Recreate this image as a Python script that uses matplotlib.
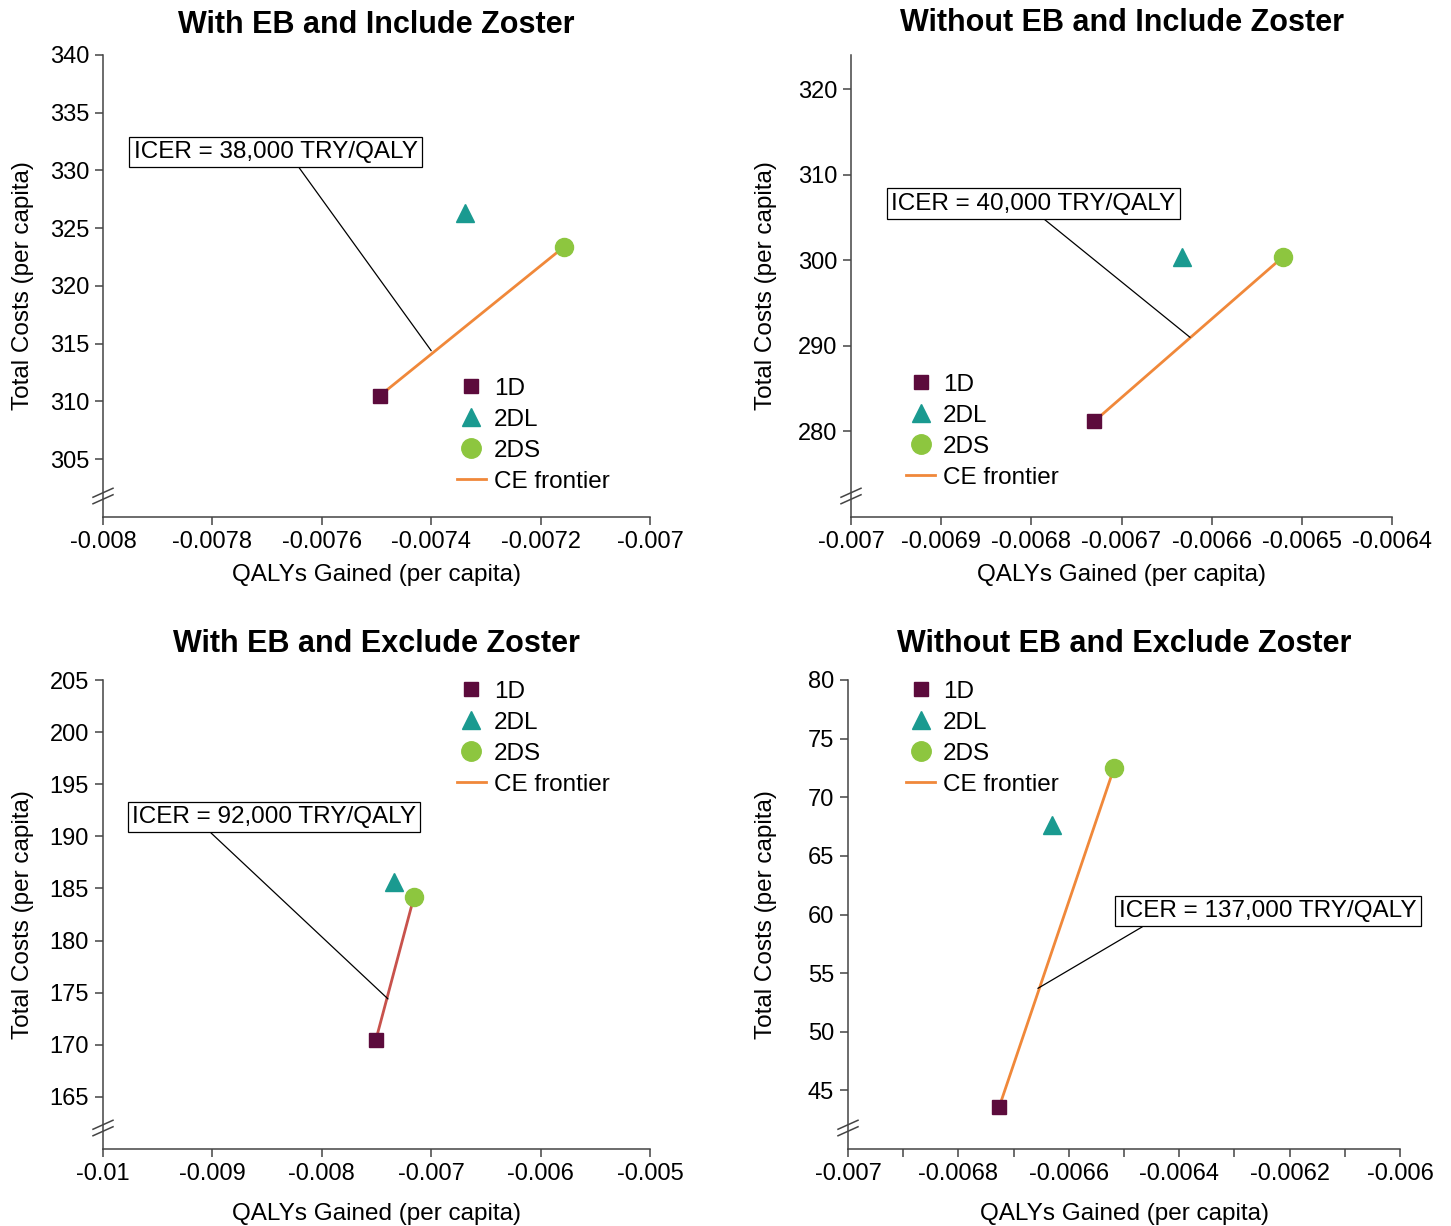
import matplotlib
matplotlib.use("Agg")
import matplotlib.pyplot as plt
from matplotlib.lines import Line2D
from matplotlib.ticker import FuncFormatter, MultipleLocator
import numpy as np

plt.rcParams['font.family'] = ['Liberation Sans', 'DejaVu Sans']
plt.rcParams['axes.unicode_minus'] = False

# ---------------- data ----------------
titles = ["With EB and Include Zoster", "Without EB and Include Zoster",
          "With EB and Exclude Zoster", "Without EB and Exclude Zoster"]
strategies = ["1D", "2DL", "2DS"]

qaly_p1 = [-0.007494, -0.007338, -0.007157]
cost_p1 = [310.5, 326.3, 323.4]
qaly_p2 = [-0.006730, -0.006633, -0.006521]
cost_p2 = [281.2, 300.4, 300.4]
qaly_p3 = [-0.007505, -0.007340, -0.007157]
cost_p3 = [170.5, 185.6, 184.2]
qaly_p4 = [-0.006726, -0.006630, -0.006518]
cost_p4 = [43.6, 67.6, 72.5]

icer_labels = ["ICER = 38,000 TRY/QALY", "ICER = 40,000 TRY/QALY",
               "ICER = 92,000 TRY/QALY", "ICER = 137,000 TRY/QALY"]
# annotation: (point on frontier, box centre)
icer_point = [(-0.00740, 314.4), (-0.006624, 291.0), (-0.007395, 174.4), (-0.006656, 53.7)]
icer_box = [(-0.007684, 331.6), (-0.006798, 306.6), (-0.008437, 191.85), (-0.006239, 60.3)]
icer_relx = [0.57, 0.52, 0.26, 0.105]

xlims = [(-0.008, -0.007), (-0.007, -0.0064), (-0.01, -0.005), (-0.007, -0.006)]
xmajor = [0.0002, 0.0001, 0.001, 0.0002]
xminor = [None, None, None, 0.0001]
ylims = [(300, 340), (270, 324), (160, 205), (40, 80)]
yticks = [np.arange(305, 341, 5), np.arange(280, 321, 10),
          np.arange(165, 206, 5), np.arange(45, 81, 5)]

# ---------------- style ----------------
c_1d = "#5c0b3c"
c_2dl = "#1a9a90"
c_2ds = "#8dc63f"
c_front = "#f0883a"
front_colors = [c_front, c_front, "#c8524c", c_front]
spine_c = "#444444"

fig = plt.figure(figsize=(14.51, 12.26), dpi=100)
W, H = 1451, 1226
boxes = [(103, 650, 55, 517), (851, 1392, 55, 517),
         (103, 650, 680, 1149), (848, 1400, 680, 1149)]
legend_anchor = [(0.647, 0.301), (0.1017, 0.310), (0.647, 0.998), (0.105, 0.998)]
title_pad = [16, 17, 20, 20]

data = [(qaly_p1, cost_p1), (qaly_p2, cost_p2), (qaly_p3, cost_p3), (qaly_p4, cost_p4)]

fmt = FuncFormatter(lambda v, p: f"{v:g}")

for i in range(4):
    l, r, t, b = boxes[i]
    ax = fig.add_axes([l / W, 1 - b / H, (r - l) / W, (b - t) / H])
    xs, ys = data[i]
    ax.plot([xs[0], xs[2]], [ys[0], ys[2]], color=front_colors[i], lw=2.0, zorder=2)
    ax.plot(xs[0], ys[0], 's', color=c_1d, ms=10, zorder=3)
    ax.plot(xs[1], ys[1], '^', color=c_2dl, ms=12.5, zorder=3)
    ax.plot(xs[2], ys[2], 'o', color=c_2ds, ms=13, zorder=3)

    ax.annotate(icer_labels[i], xy=icer_point[i], xytext=icer_box[i],
                ha='center', va='center', fontsize=17.5,
                bbox=dict(boxstyle='square,pad=0.18', fc='white', ec='black', lw=0.9),
                arrowprops=dict(arrowstyle='-', color='black', lw=0.9,
                                shrinkA=0, shrinkB=0, relpos=(icer_relx[i], 0)),
                zorder=4)

    ax.set_xlim(*xlims[i])
    ax.set_ylim(*ylims[i])
    ax.xaxis.set_major_locator(MultipleLocator(xmajor[i]))
    if xminor[i]:
        ax.xaxis.set_minor_locator(MultipleLocator(xminor[i]))
        ax.tick_params(axis='x', which='minor', length=6, width=1.1, color=spine_c, direction='out')
    ax.xaxis.set_major_formatter(fmt)
    ax.set_yticks(yticks[i])
    for s in ['top', 'right']:
        ax.spines[s].set_visible(False)
    for s in ['left', 'bottom']:
        ax.spines[s].set_color(spine_c)
        ax.spines[s].set_linewidth(1.1)
    ax.tick_params(axis='both', which='major', labelsize=17, length=6, width=1.1,
                   color=spine_c, direction='out', pad=4)

    ax.set_xlabel("QALYs Gained (per capita)", fontsize=17.5)
    ax.set_ylabel("Total Costs (per capita)", fontsize=17.5)
    ax.yaxis.set_label_coords(((34 if l < 400 else 777) - l) / (r - l), 0.5)
    ax.xaxis.set_label_coords(0.5, (b - (564 if b < 600 else 1203)) / (b - t))
    ax.set_title(titles[i], fontsize=22, fontweight='bold', pad=title_pad[i])

    # axis break marks
    bx = 10 / (r - l)
    by = 21 / (b - t)
    dy = 4.5 / (b - t)
    gap = 6.5 / (b - t)
    for off in (0, gap):
        ax.plot([-bx, bx], [by - dy - off + gap / 2, by + dy - off + gap / 2],
                transform=ax.transAxes, color=spine_c, lw=1.1, clip_on=False)

    handles = [Line2D([], [], marker='s', color=c_1d, ls='none', ms=9.5),
               Line2D([], [], marker='^', color=c_2dl, ls='none', ms=13.5),
               Line2D([], [], marker='o', color=c_2ds, ls='none', ms=14),
               Line2D([], [], color=c_front, lw=2.0)]
    ax.legend(handles, strategies + ["CE frontier"], loc='upper left',
              bbox_to_anchor=legend_anchor[i], frameon=False, fontsize=17.5,
              borderpad=0, borderaxespad=0, handlelength=1.2, handletextpad=0.33,
              labelspacing=0.37)

fig.savefig("out.png", dpi=100)
